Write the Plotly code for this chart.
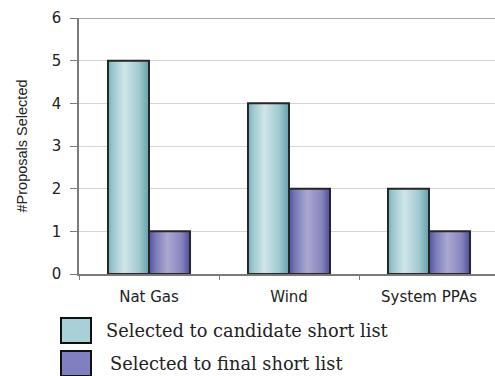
import plotly.graph_objects as go

# Proposals selected per resource type
categories = ["Nat Gas", "Wind", "System PPAs"]
candidate_short_list = [5, 4, 2]
final_short_list = [1, 2, 1]
series_names = ["Selected to candidate short list", "Selected to final short list"]
y_ticks = [0, 1, 2, 3, 4, 5, 6]

W, H = 495, 376
ML, MT, MB = 79, 18, 102
plot_w = W - ML
plot_h = H - MT - MB

BAR_W = 0.293
X_MIN, X_MAX = -0.5, -0.5 + plot_w / 140.0

teal_scale = [[0.0, "#74ADB9"], [0.12, "#9CC8D0"], [0.4, "#D0E6E9"],
              [0.75, "#A2CAD1"], [1.0, "#65A0AA"]]
purple_scale = [[0.0, "#5252A2"], [0.15, "#7878B6"], [0.45, "#ABA9D0"],
                [0.8, "#8684BE"], [1.0, "#4E4E9A"]]
legend_fill = ["#A8D0D6", "#8080C0"]

SANS = "DejaVu Sans, Verdana, sans-serif"
SERIF = "DejaVu Serif, Georgia, serif"

fig = go.Figure()


def add_bar(xc0, xc1, value, scale):
    fig.add_trace(go.Scatter(
        x=[xc0, xc0, xc1, xc1, xc0],
        y=[0, value, value, 0, 0],
        mode="lines",
        line=dict(color="#262626", width=2),
        fill="toself",
        fillgradient=dict(type="horizontal", colorscale=scale),
        showlegend=False,
        hoverinfo="skip",
    ))


for i, cat in enumerate(categories):
    add_bar(i - BAR_W, i, candidate_short_list[i], teal_scale)
    add_bar(i, i + BAR_W, final_short_list[i], purple_scale)

fig.update_layout(
    width=W, height=H,
    margin=dict(l=ML, r=0, t=MT, b=MB),
    paper_bgcolor="white",
    plot_bgcolor="white",
    showlegend=False,
    xaxis=dict(
        range=[X_MIN, X_MAX],
        tickvals=[0, 1, 2],
        ticktext=categories,
        ticks="",
        ticklabelstandoff=8,
        showgrid=False,
        zeroline=False,
        showline=True,
        linecolor="#7A7A7A",
        linewidth=1.5,
        tickfont=dict(family=SANS, size=15, color="#222"),
        minor=dict(ticks="outside", tick0=0.5, dtick=1, ticklen=4,
                   tickcolor="#7A7A7A", showgrid=False),
        fixedrange=True,
    ),
    yaxis=dict(
        range=[0, 6],
        tickvals=y_ticks,
        ticks="outside",
        ticklen=7,
        tickcolor="#7A7A7A",
        ticklabelstandoff=6,
        showgrid=True,
        gridcolor="#D6D6D6",
        gridwidth=1.2,
        zeroline=False,
        showline=True,
        linecolor="#7A7A7A",
        linewidth=1.5,
        tickfont=dict(family=SANS, size=15, color="#222"),
        title=dict(text="#Proposals Selected",
                   font=dict(family="Liberation Sans, Arial, sans-serif", size=14.5, color="#222"),
                   standoff=21),
        fixedrange=True,
    ),
)

# top border of the plotting area
fig.add_shape(type="line", xref="paper", yref="y", x0=0, x1=1, y0=6, y1=6,
              line=dict(color="#8C8C8C", width=1.5))


def px_to_paper(px, py):
    return (px - ML) / plot_w, (H - MB - py) / plot_h


# legend keys and labels below the chart
legend_rows = [(61, 318, 104), (61, 351, 108)]
for (bx, by, tx), name, color in zip(legend_rows, series_names, legend_fill):
    x0, y1 = px_to_paper(bx, by)
    x1, y0 = px_to_paper(bx + 30, by + 25)
    fig.add_shape(type="rect", xref="paper", yref="paper",
                  x0=x0, x1=x1, y0=y0, y1=y1,
                  fillcolor=color, line=dict(color="#111", width=2))
    ax, ay = px_to_paper(tx, by + 12.5)
    fig.add_annotation(xref="paper", yref="paper", x=ax, y=ay,
                       xanchor="left", yanchor="middle", showarrow=False,
                       text=name,
                       font=dict(family=SERIF, size=17.8, color="#222"))

fig.write_html("out.html")
